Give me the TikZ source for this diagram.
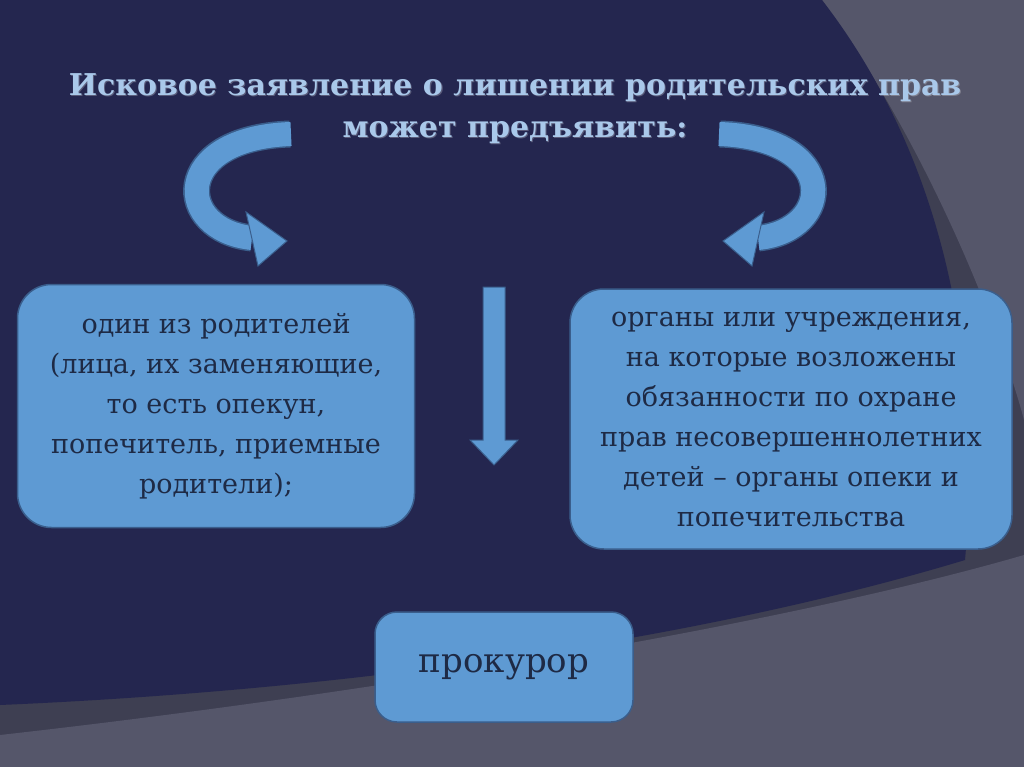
\documentclass[tikz,border=0pt]{standalone}
\usepackage{fontspec}
\setmainfont{DejaVu Serif}
\begin{document}
\begin{tikzpicture}[x=1pt,y=-1pt,
  box/.style={draw=boxedge,line width=1.5pt,fill=boxfill,rounded corners=34pt,text=boxtext,align=center,font=\fontsize{27}{40}\selectfont},
  ttl/.style={text=titlec,align=center,font=\bfseries\fontsize{30}{42}\selectfont}]
\definecolor{bgnavy}{HTML}{24264F}
\definecolor{bggray}{HTML}{3E3F52}
\definecolor{bglight}{HTML}{55566A}
\definecolor{boxfill}{HTML}{5E9AD3}
\definecolor{boxedge}{HTML}{3A5E8C}
\definecolor{boxtext}{HTML}{1E2A45}
\definecolor{titlec}{HTML}{A9C8EA}
\definecolor{arrf}{HTML}{5E9AD3}
\useasboundingbox (0,0) rectangle (1024,767);
\fill[bggray] (0,0) rectangle (1024,767);
\fill[bglight] (822,0) .. controls (930,150) and (1000,330) .. (1024,420) -- (1024,0) -- cycle;
\fill[bglight] (0,767) -- (0,735) .. controls (400,690) and (800,620) .. (1024,555) -- (1024,767) -- cycle;
\fill[bgnavy] (0,0) -- (822,0) .. controls (930,140) and (985,330) .. (965,560) .. controls (700,640) and (350,690) .. (0,705) -- cycle;
% title
\node[ttl,text=white,opacity=0.25] (tg) at (516,110) {Исковое заявление о лишении родительских прав\\может предъявить:};
\node[ttl] (t) at (515,109) {Исковое заявление о лишении родительских прав\\может предъявить:};
% boxes
\node[box,minimum width=397pt,minimum height=243pt] (a) at (216,406) {один из родителей\\(лица, их заменяющие,\\то есть опекун,\\попечитель, приемные\\родители);};
\node[box,minimum width=442pt,minimum height=260pt] (b) at (791,419) {органы или учреждения,\\на которые возложены\\обязанности по охране\\прав несовершеннолетних\\детей – органы опеки и\\попечительства};
\node[box,minimum width=258pt,minimum height=110pt,rounded corners=22pt,font=\fontsize{34}{40}\selectfont] (c) at (504,667) {прокурор};
% down arrow
\filldraw[fill=arrf,draw=boxedge,line width=1pt] (483,287) -- (505,287) -- (505,440) -- (518,440) -- (494,465) -- (470,440) -- (483,440) -- cycle;
% curved arrows
\draw[boxedge,line width=27pt] (290,134) .. controls (170,138) and (175,230) .. (252,238);
\draw[arrf,line width=24pt] (291,134) .. controls (170,138) and (175,230) .. (252,238);
\filldraw[fill=arrf,draw=boxedge,line width=1pt] (246,212) -- (287,241) -- (258,266) -- cycle;
\draw[boxedge,line width=27pt] (720,134) .. controls (840,138) and (835,230) .. (758,238);
\draw[arrf,line width=24pt] (719,134) .. controls (840,138) and (835,230) .. (758,238);
\filldraw[fill=arrf,draw=boxedge,line width=1pt] (764,212) -- (723,241) -- (752,266) -- cycle;
\end{tikzpicture}
\end{document}
